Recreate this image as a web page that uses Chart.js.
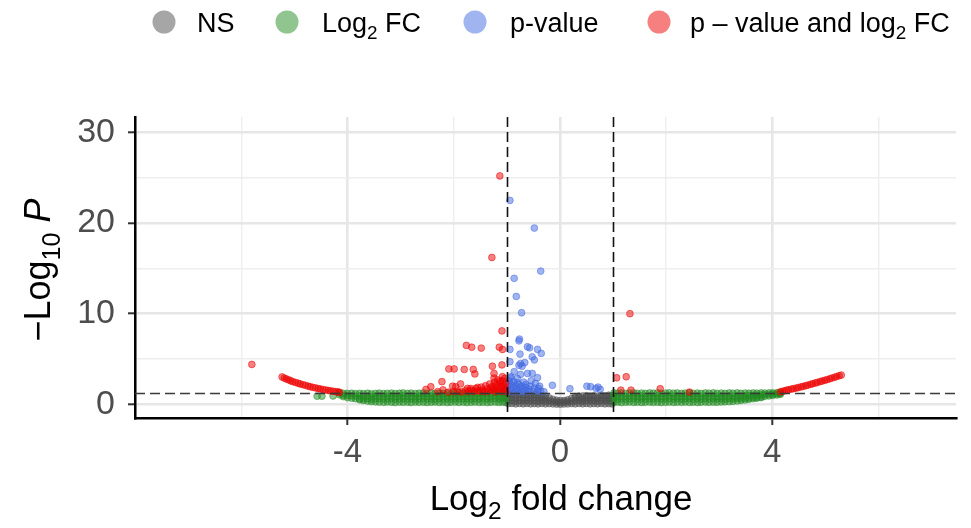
<!DOCTYPE html>
<html>
<head>
<meta charset="utf-8">
<title>Volcano plot</title>
<script src="https://cdn.jsdelivr.net/npm/chart.js@4.4.1/dist/chart.umd.min.js"></script>
<style>
  html, body { margin: 0; padding: 0; background: #fff; }
  #volcano { display: block; }
</style>
</head>
<body>
<canvas id="volcano" width="971" height="528"></canvas>
<script>
// axis setup
const xLimits = [-8.0, 7.46];
const yLimits = [-1.51, 31.7];
const xLabelTicks = [-4, 0, 4];
const yLabelTicks = [0, 10, 20, 30];
const fcCutoff = 1;
const pCutoff = 1.30; // -log10(0.05)

// NS genes, columns: [log2FC, -log10P, -log10P, ...]
const nsCols = [
  [-0.97, 0.08, 0.40, 0.75, 1.10], [-0.90, 0.10, 0.45, 0.80, 1.15],
  [-0.83, 0.05, 0.35, 0.70, 1.05], [-0.76, 0.10, 0.45, 0.80, 1.12],
  [-0.69, 0.06, 0.40, 0.72, 1.05], [-0.62, 0.10, 0.42, 0.78, 1.10],
  [-0.55, 0.05, 0.38, 0.70, 1.00], [-0.48, 0.08, 0.40, 0.75, 1.08],
  [-0.41, 0.05, 0.35, 0.70, 1.00], [-0.34, 0.10, 0.40, 0.72, 0.95],
  [-0.27, 0.05, 0.35, 0.65, 0.90], [-0.20, 0.08, 0.38, 0.70],
  [-0.13, 0.05, 0.30, 0.55], [-0.06, 0.03, 0.25, 0.45],
  [0.01, 0.02, 0.20, 0.40], [0.08, 0.04, 0.25, 0.42],
  [0.15, 0.05, 0.30, 0.50], [0.22, 0.08, 0.35, 0.65],
  [0.29, 0.05, 0.38, 0.70, 0.85], [0.36, 0.10, 0.40, 0.72, 0.90],
  [0.43, 0.06, 0.35, 0.68, 0.92], [0.50, 0.10, 0.42, 0.75, 0.95],
  [0.57, 0.05, 0.38, 0.70, 0.90], [0.64, 0.08, 0.40, 0.72, 0.95],
  [0.71, 0.06, 0.35, 0.68, 0.90], [0.78, 0.10, 0.42, 0.75, 0.98],
  [0.85, 0.05, 0.38, 0.70, 0.92], [0.92, 0.08, 0.40, 0.72, 1.00],
  [0.98, 0.05, 0.35, 0.70, 0.95]
];

// Log2 FC only (not significant), same column layout
const fcLeftCols = [
  [-4.15, 1.26, 1.05], [-4.08, 1.22, 1.00, 0.85], [-4.00, 1.20, 0.96, 0.74],
  [-3.92, 1.22, 0.94, 0.68], [-3.85, 1.18, 0.90, 0.62],
  [-3.77, 1.21, 0.92, 0.60, 0.50], [-3.70, 1.17, 0.88, 0.60, 0.42],
  [-3.62, 1.22, 0.90, 0.62, 0.36], [-3.55, 1.16, 0.86, 0.56, 0.30],
  [-3.47, 1.20, 0.90, 0.60, 0.27], [-3.40, 1.23, 0.92, 0.62, 0.25],
  [-3.32, 1.18, 0.88, 0.58, 0.22], [-3.25, 1.21, 0.90, 0.60, 0.26],
  [-3.17, 1.24, 0.94, 0.63, 0.23], [-3.10, 1.19, 0.87, 0.57, 0.20],
  [-3.02, 1.22, 0.91, 0.60, 0.25], [-2.95, 1.25, 0.93, 0.62, 0.22],
  [-2.87, 1.20, 0.89, 0.58, 0.24], [-2.80, 1.23, 0.92, 0.61, 0.20],
  [-2.72, 1.18, 0.88, 0.57, 0.25], [-2.65, 1.22, 0.90, 0.60, 0.22],
  [-2.57, 1.26, 0.94, 0.63, 0.24], [-2.50, 1.20, 0.88, 0.58, 0.20],
  [-2.42, 1.23, 0.91, 0.60, 0.23], [-2.35, 1.19, 0.87, 0.56, 0.25],
  [-2.27, 1.24, 0.92, 0.62, 0.21], [-2.20, 1.21, 0.90, 0.59, 0.24],
  [-2.12, 1.25, 0.93, 0.61, 0.20], [-2.05, 1.20, 0.88, 0.58, 0.23],
  [-1.97, 1.23, 0.91, 0.60, 0.25], [-1.90, 1.26, 0.94, 0.63, 0.21],
  [-1.82, 1.21, 0.89, 0.58, 0.24], [-1.75, 1.24, 0.92, 0.61, 0.20],
  [-1.67, 1.20, 0.88, 0.57, 0.23], [-1.60, 1.25, 0.93, 0.62, 0.25],
  [-1.52, 1.22, 0.90, 0.59, 0.21], [-1.45, 1.26, 0.94, 0.63, 0.24],
  [-1.37, 1.21, 0.89, 0.58, 0.20], [-1.30, 1.24, 0.92, 0.61, 0.23],
  [-1.22, 1.27, 0.95, 0.64, 0.25], [-1.15, 1.22, 0.90, 0.59, 0.21],
  [-1.08, 1.25, 0.93, 0.62, 0.24], [-1.02, 1.27, 0.95, 0.63, 0.22]
];
const fcRightCols = [
  [1.02, 1.26, 0.94, 0.62, 0.22], [1.09, 1.22, 0.90, 0.58, 0.25],
  [1.16, 1.25, 0.93, 0.61, 0.20], [1.24, 1.20, 0.88, 0.57, 0.23],
  [1.31, 1.24, 0.92, 0.60, 0.25], [1.39, 1.27, 0.95, 0.63, 0.21],
  [1.46, 1.21, 0.89, 0.58, 0.24], [1.54, 1.24, 0.92, 0.61, 0.20],
  [1.61, 1.20, 0.88, 0.57, 0.23], [1.69, 1.25, 0.93, 0.62, 0.25],
  [1.76, 1.22, 0.90, 0.59, 0.21], [1.84, 1.26, 0.94, 0.63, 0.24],
  [1.91, 1.21, 0.89, 0.58, 0.20], [1.99, 1.24, 0.92, 0.61, 0.23],
  [2.06, 1.27, 0.95, 0.64, 0.25], [2.14, 1.22, 0.90, 0.59, 0.21],
  [2.21, 1.25, 0.93, 0.62, 0.24], [2.29, 1.20, 0.88, 0.57, 0.22],
  [2.36, 1.23, 0.91, 0.60, 0.25], [2.44, 1.26, 0.94, 0.63, 0.21],
  [2.51, 1.21, 0.89, 0.58, 0.24], [2.59, 1.24, 0.92, 0.61, 0.20],
  [2.66, 1.20, 0.88, 0.57, 0.23], [2.74, 1.25, 0.93, 0.62, 0.25],
  [2.81, 1.22, 0.90, 0.59, 0.22], [2.89, 1.26, 0.94, 0.63, 0.24],
  [2.96, 1.21, 0.89, 0.58, 0.23], [3.04, 1.24, 0.92, 0.61, 0.26],
  [3.11, 1.20, 0.88, 0.57, 0.28], [3.19, 1.25, 0.93, 0.62, 0.30],
  [3.26, 1.22, 0.90, 0.60, 0.33], [3.34, 1.26, 0.94, 0.64, 0.37],
  [3.41, 1.21, 0.90, 0.62, 0.42], [3.49, 1.24, 0.94, 0.66, 0.48],
  [3.56, 1.22, 0.95, 0.70, 0.55], [3.64, 1.25, 0.98, 0.75, 0.62],
  [3.71, 1.23, 1.00, 0.78, 0.68], [3.79, 1.26, 1.03, 0.82, 0.74],
  [3.86, 1.24, 1.05, 0.88], [3.94, 1.27, 1.08, 0.93],
  [4.01, 1.25, 1.12, 0.98], [4.09, 1.28, 1.16, 1.04],
  [4.15, 1.27, 1.18, 1.10]
];
const fcStray = [[-4.57, 0.90], [-4.48, 0.90], [-4.27, 0.92]];

// p-value only (|log2FC| < 1)
const pvPoints = [
  [-0.94, 22.5], [-0.48, 19.45], [-0.36, 14.7], [-0.86, 13.9], [-0.82, 11.9],
  [-0.72, 10.1], [-0.76, 7.2], [-0.77, 7.0], [-0.61, 6.35], [-0.57, 6.23],
  [-0.42, 6.06], [-0.35, 5.62], [-0.94, 6.06], [-0.52, 5.24], [-0.75, 5.54],
  [-0.48, 4.9], [-0.94, 4.7], [-0.74, 4.5], [-0.66, 4.6], [-0.77, 4.3],
  [-0.71, 4.2], [-0.86, 3.6], [-0.74, 3.3], [-0.61, 3.4], [-0.52, 3.41],
  [-0.42, 2.93], [-0.92, 3.05], [-0.80, 2.85], [-0.14, 2.1],
  [-0.97, 1.40], [-0.95, 1.70], [-0.98, 2.00], [-0.94, 2.30], [-0.96, 2.60],
  [-0.93, 2.90], [-0.90, 1.50], [-0.88, 1.85], [-0.90, 2.15], [-0.87, 2.50],
  [-0.84, 1.40], [-0.82, 1.70], [-0.83, 2.05], [-0.80, 2.40], [-0.78, 1.50],
  [-0.76, 1.85], [-0.77, 2.20], [-0.72, 1.40], [-0.70, 1.70], [-0.71, 2.00],
  [-0.68, 2.45], [-0.65, 1.50], [-0.63, 1.85], [-0.64, 2.20], [-0.60, 1.40],
  [-0.58, 1.65], [-0.56, 2.00], [-0.54, 2.60], [-0.50, 1.45], [-0.48, 1.80],
  [-0.46, 2.30], [-0.42, 1.50], [-0.40, 1.75], [-0.38, 2.00], [-0.36, 1.45],
  [-0.30, 1.40],
  [0.19, 1.72], [0.51, 2.00], [0.58, 1.94], [0.72, 1.90], [0.76, 1.65], [0.68, 1.76]
];

// p-value and log2 FC
const bothCurveLeft = [
  [-5.23, 3.02], [-5.19, 2.90], [-5.15, 2.80], [-5.11, 2.70], [-5.07, 2.60],
  [-5.03, 2.50], [-4.98, 2.42], [-4.93, 2.33], [-4.89, 2.25], [-4.84, 2.17],
  [-4.79, 2.09], [-4.74, 2.01], [-4.70, 1.94], [-4.65, 1.87], [-4.60, 1.81],
  [-4.55, 1.74], [-4.51, 1.69], [-4.46, 1.63], [-4.41, 1.58], [-4.36, 1.53],
  [-4.32, 1.49], [-4.27, 1.44], [-4.22, 1.40], [-4.18, 1.36], [-4.15, 1.33]
];
const bothCurveRight = [
  [4.15, 1.38], [4.19, 1.43], [4.23, 1.49], [4.27, 1.55], [4.31, 1.61],
  [4.36, 1.68], [4.40, 1.73], [4.45, 1.79], [4.49, 1.85], [4.54, 1.92],
  [4.58, 1.98], [4.63, 2.05], [4.67, 2.12], [4.72, 2.20], [4.76, 2.27],
  [4.81, 2.35], [4.85, 2.42], [4.90, 2.50], [4.94, 2.57], [4.99, 2.65],
  [5.03, 2.72], [5.08, 2.81], [5.12, 2.89], [5.17, 2.98], [5.21, 3.06],
  [5.26, 3.15], [5.30, 3.23]
];
const bothScatter = [
  [-1.13, 25.2], [-1.28, 16.2], [-1.09, 8.1], [-5.80, 4.4], [1.32, 10.0],
  [-1.76, 6.5], [-1.66, 6.3], [-1.48, 6.2], [-1.14, 6.3], [-1.08, 6.05],
  [-2.09, 3.9], [-1.99, 3.9], [-1.80, 3.85], [-1.63, 3.85], [-1.60, 3.35],
  [-1.27, 4.2], [-1.09, 4.35], [-1.24, 3.4], [-1.24, 2.9], [-1.08, 3.05],
  [-2.22, 2.5], [-2.43, 1.94], [-2.52, 1.65], [-1.87, 2.25], [-1.68, 1.75],
  [-2.02, 2.0], [-1.96, 1.94], [-1.74, 1.76], [-1.55, 1.87],
  [-1.02, 1.40], [-1.05, 1.60], [-1.03, 1.85], [-1.06, 2.10], [-1.02, 2.35],
  [-1.08, 2.60], [-1.04, 2.85], [-1.10, 1.45], [-1.12, 1.75], [-1.10, 2.00],
  [-1.14, 2.30], [-1.12, 2.55], [-1.16, 1.50], [-1.18, 1.90], [-1.20, 2.15],
  [-1.17, 2.70], [-1.22, 1.40], [-1.24, 1.70], [-1.26, 2.00], [-1.23, 2.45],
  [-1.28, 1.55], [-1.30, 1.85], [-1.32, 2.25], [-1.35, 1.45], [-1.37, 1.70],
  [-1.40, 2.05], [-1.42, 1.40], [-1.45, 1.60], [-1.50, 1.45], [-1.48, 1.90],
  [-1.55, 1.50], [-1.58, 1.75], [-1.62, 1.42], [-1.67, 1.55], [-1.72, 1.40],
  [-1.78, 1.50], [-1.85, 1.38], [-1.92, 1.45], [-2.00, 1.40], [-2.10, 1.35],
  [-2.30, 1.40], [-2.20, 1.60],
  [1.07, 2.93], [1.25, 3.04], [1.15, 1.57], [1.34, 1.57], [1.89, 1.72], [2.44, 1.35]
];

const FONT = '"Liberation Sans", Arial, Helvetica, sans-serif';
const colNS = 'rgba(77, 77, 77, 0.5)';
const colFC = 'rgba(34, 139, 34, 0.5)';
const colP = 'rgba(65, 105, 225, 0.5)';
const colBoth = 'rgba(238, 0, 0, 0.5)';

const fromCols = cols => cols.flatMap(c => c.slice(1).map(y => ({ x: c[0], y })));
const fromPairs = pairs => pairs.map(p => ({ x: p[0], y: p[1] }));

const legendItems = [
  { color: colNS, cx: 164, tx: 197, parts: [{ t: 'NS' }] },
  { color: colFC, cx: 287, tx: 322, parts: [{ t: 'Log' }, { t: '2', sub: true }, { t: ' FC' }] },
  { color: colP, cx: 475, tx: 510, parts: [{ t: 'p-value' }] },
  { color: colBoth, cx: 659, tx: 690, parts: [{ t: 'p \u2013 value and log' }, { t: '2', sub: true }, { t: ' FC' }] }
];

// text with subscripts / italics drawn piece by piece
function richWidth(ctx, parts, size) {
  let w = 0;
  parts.forEach(p => {
    const s = p.sub ? size * 0.7 : size;
    ctx.font = (p.italic ? 'italic ' : '') + s + 'px ' + FONT;
    w += ctx.measureText(p.t).width;
  });
  return w;
}
function drawRich(ctx, parts, x, y, size, center) {
  let cx = center ? x - richWidth(ctx, parts, size) / 2 : x;
  ctx.textAlign = 'left';
  ctx.textBaseline = 'alphabetic';
  parts.forEach(p => {
    const s = p.sub ? size * 0.7 : size;
    ctx.font = (p.italic ? 'italic ' : '') + s + 'px ' + FONT;
    ctx.fillText(p.t, cx, y + (p.sub ? size * 0.27 : 0));
    cx += ctx.measureText(p.t).width;
  });
}

const cutoffLines = {
  id: 'cutoffLines',
  afterDatasetsDraw(chart) {
    const { ctx, chartArea: a, scales: { x, y } } = chart;
    ctx.save();
    ctx.beginPath();
    ctx.rect(a.left, a.top, a.right - a.left, a.bottom - a.top);
    ctx.clip();
    ctx.lineWidth = 1.6;
    ctx.setLineDash([10, 5]);
    ctx.strokeStyle = '#111';
    [-fcCutoff, fcCutoff].forEach(v => {
      const px = Math.round(x.getPixelForValue(v)) + 0.5;
      ctx.beginPath();
      ctx.moveTo(px, a.top);
      ctx.lineTo(px, a.bottom);
      ctx.stroke();
    });
    ctx.strokeStyle = '#3a3a3a';
    const py = Math.round(y.getPixelForValue(pCutoff)) + 0.5;
    ctx.beginPath();
    ctx.moveTo(a.left, py);
    ctx.lineTo(a.right, py);
    ctx.stroke();
    ctx.restore();
  }
};

const annotations = {
  id: 'annotations',
  afterDraw(chart) {
    const { ctx, chartArea: a } = chart;
    ctx.save();
    ctx.fillStyle = '#000';
    // legend
    legendItems.forEach(item => {
      ctx.beginPath();
      ctx.arc(item.cx, 22, 11.5, 0, Math.PI * 2);
      ctx.fillStyle = item.color;
      ctx.fill();
      ctx.fillStyle = '#000';
      drawRich(ctx, item.parts, item.tx, 32, 27, false);
    });
    // x title
    drawRich(ctx, [{ t: 'Log' }, { t: '2', sub: true }, { t: ' fold change' }],
      561, 510, 35, true);
    // y title
    ctx.translate(50, 270);
    ctx.rotate(-Math.PI / 2);
    drawRich(ctx, [{ t: '\u2212Log' }, { t: '10', sub: true }, { t: ' ' }, { t: 'P', italic: true }],
      0, 0, 36, true);
    ctx.restore();
  }
};

const isMulti = (v, step) => Math.abs(v / step - Math.round(v / step)) < 1e-6;

new Chart(document.getElementById('volcano'), {
  type: 'scatter',
  data: {
    datasets: [
      { label: 'p - value and log2 FC', data: fromPairs(bothCurveLeft).concat(fromPairs(bothCurveRight), fromPairs(bothScatter)),
        backgroundColor: colBoth, borderColor: colBoth },
      { label: 'p-value', data: fromPairs(pvPoints), backgroundColor: colP, borderColor: colP },
      { label: 'Log2 FC', data: fromCols(fcLeftCols).concat(fromCols(fcRightCols), fromPairs(fcStray)),
        backgroundColor: colFC, borderColor: colFC },
      { label: 'NS', data: fromCols(nsCols), backgroundColor: colNS, borderColor: colNS }
    ]
  },
  options: {
    responsive: false,
    animation: false,
    events: [],
    layout: { padding: { top: 117, right: 15, left: 0, bottom: 0 } },
    elements: { point: { radius: 3.4, borderWidth: 1 } },
    plugins: { legend: { display: false }, tooltip: { enabled: false } },
    scales: {
      x: {
        type: 'linear',
        min: xLimits[0],
        max: xLimits[1],
        afterFit: s => { s.height = 110; },
        ticks: {
          stepSize: 2, includeBounds: false, autoSkip: false, maxRotation: 0,
          color: '#4d4d4d', padding: 8,
          font: { family: FONT, size: 33 },
          callback: v => xLabelTicks.includes(v) ? String(v) : ''
        },
        grid: {
          color: c => isMulti(c.tick.value, 4) ? '#e6e6e6' : '#eeeeee',
          lineWidth: c => isMulti(c.tick.value, 4) ? 2.6 : 1.4,
          tickLength: 7,
          tickWidth: 2,
          tickColor: c => xLabelTicks.includes(c.tick.value) ? '#333' : 'rgba(0,0,0,0)'
        },
        border: { display: true, color: '#000', width: 2.5 }
      },
      y: {
        type: 'linear',
        min: yLimits[0],
        max: yLimits[1],
        afterFit: s => { s.width = 135; },
        ticks: {
          stepSize: 5, includeBounds: false, autoSkip: false,
          color: '#4d4d4d', padding: 13,
          font: { family: FONT, size: 34 },
          callback: v => yLabelTicks.includes(v) ? String(v) : ''
        },
        grid: {
          color: c => isMulti(c.tick.value, 10) ? '#e6e6e6' : '#eeeeee',
          lineWidth: c => isMulti(c.tick.value, 10) ? 2.6 : 1.4,
          tickLength: 7,
          tickWidth: 2,
          tickColor: c => yLabelTicks.includes(c.tick.value) ? '#333' : 'rgba(0,0,0,0)'
        },
        border: { display: true, color: '#000', width: 2.5 }
      }
    }
  },
  plugins: [cutoffLines, annotations]
});
</script>
</body>
</html>
